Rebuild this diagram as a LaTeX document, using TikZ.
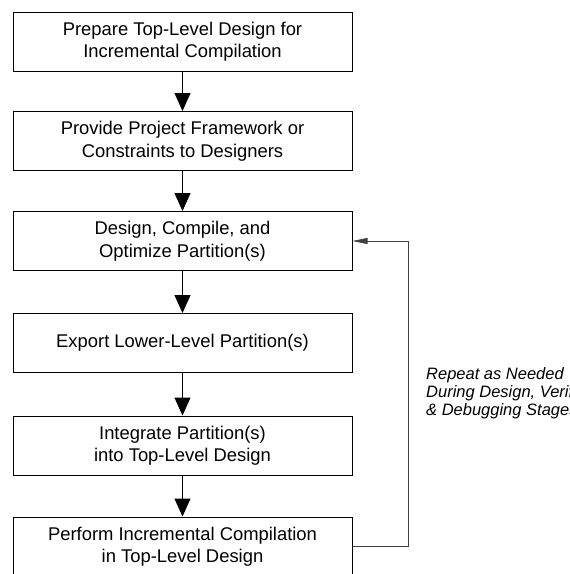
\documentclass[tikz,border=0pt]{standalone}
\usepackage{fontspec}
\setmainfont{Liberation Sans}
\newfontfamily\notefont{Liberation Sans}
\usetikzlibrary{arrows.meta}

\begin{document}
\begin{tikzpicture}[x=1pt,y=-1pt,
    stage/.style={draw,line width=1pt,minimum width=339pt,minimum height=59pt,
        inner sep=0pt,align=center,font=\fontsize{18.4}{22.5}\selectfont},
    flow/.style={line width=1pt,-{Triangle[width=16pt,length=18pt]}},
    loopback/.style={line width=0.7pt,draw=black!75,
        -{Triangle[width=6pt,length=15pt,fill=black!75]}}]
    \useasboundingbox (0,0) rectangle (570,574);

    \foreach \i/\y/\t in {1/41.5/{Prepare Top-Level Design for\\Incremental Compilation},
        2/141/{Provide Project Framework or\\Constraints to Designers},
        3/241/{Design, Compile, and\\Optimize Partition(s)},
        4/343/{Export Lower-Level Partition(s)},
        5/445.5/{Integrate Partition(s)\\into Top-Level Design},
        6/546.5/{Perform Incremental Compilation\\in Top-Level Design}}{
        \node[stage] (S\i) at (182.5,\y) {\t};
    }

    \foreach \i/\j in {1/2,2/3,3/4,4/5,5/6}{
        \draw[flow] (S\i) -- (S\j);
    }

    % feedback loop
    \draw[loopback] (S6.east) -- ++(56,0) |- (S3.east);
    \node[anchor=north west,inner sep=0pt,align=left,
        font=\notefont\itshape\fontsize{16.5}{18.2}\selectfont] (note) at (426,367)
        {Repeat as Needed\\During Design, Verification,\\\& Debugging Stages};
\end{tikzpicture}
\end{document}
